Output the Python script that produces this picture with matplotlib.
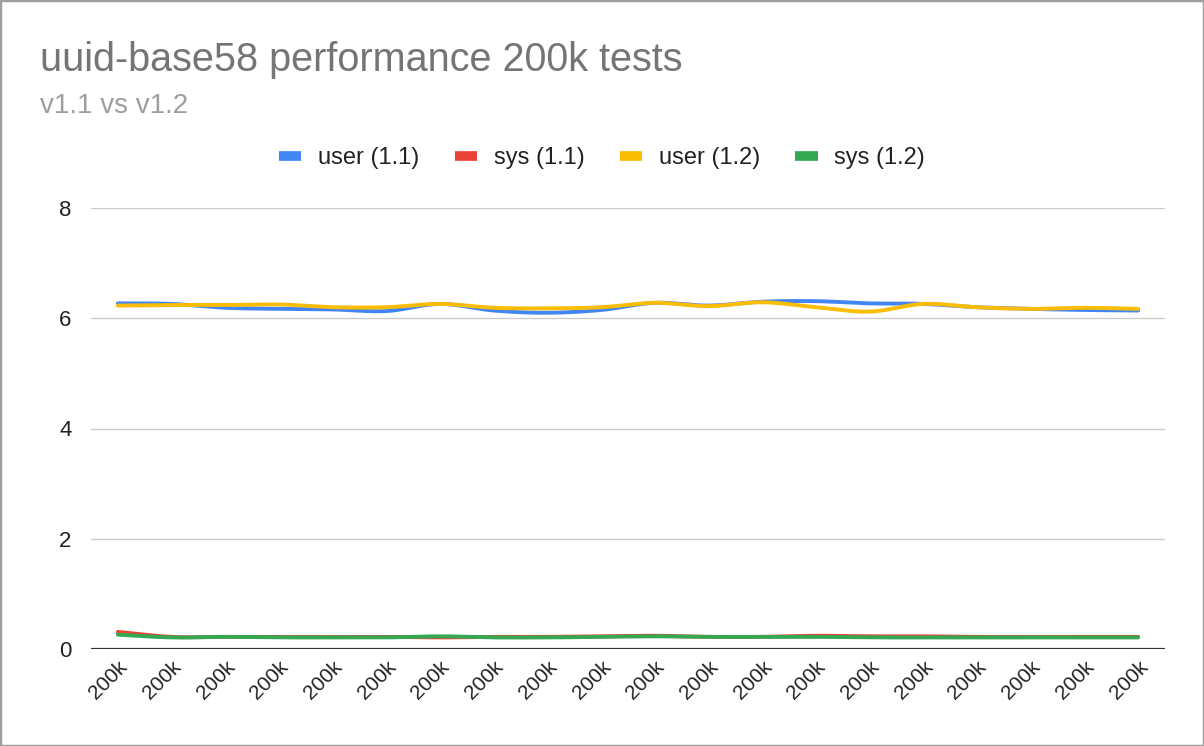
import numpy as np
import matplotlib
matplotlib.use("Agg")
import matplotlib.pyplot as plt
from matplotlib.patches import Rectangle

plt.rcParams['font.family'] = ['Liberation Sans', 'DejaVu Sans']

# data
labels = ["200k"] * 20
user_11 = [6.27, 6.26, 6.19, 6.17, 6.16, 6.13, 6.26, 6.14, 6.10, 6.15,
           6.28, 6.23, 6.30, 6.31, 6.27, 6.26, 6.20, 6.17, 6.15, 6.14]
sys_11 = [0.31, 0.22, 0.22, 0.22, 0.22, 0.22, 0.21, 0.22, 0.22, 0.23,
          0.24, 0.22, 0.22, 0.24, 0.23, 0.23, 0.22, 0.22, 0.22, 0.22]
user_12 = [6.23, 6.24, 6.24, 6.25, 6.20, 6.20, 6.26, 6.19, 6.18, 6.20,
           6.28, 6.22, 6.29, 6.20, 6.12, 6.26, 6.20, 6.17, 6.19, 6.17]
sys_12 = [0.26, 0.21, 0.22, 0.21, 0.21, 0.21, 0.23, 0.21, 0.21, 0.22,
          0.23, 0.22, 0.22, 0.22, 0.21, 0.21, 0.21, 0.21, 0.21, 0.21]

series = [("user (1.1)", user_11, "#4285F4"),
          ("sys (1.1)", sys_11, "#EA4335"),
          ("user (1.2)", user_12, "#FBBC04"),
          ("sys (1.2)", sys_12, "#34A853")]


def smooth(y, n=20):
    # Catmull-Rom curve through the points, like the sheets "smooth" option
    y = np.asarray(y, dtype=float)
    p = np.concatenate([[2 * y[0] - y[1]], y, [2 * y[-1] - y[-2]]])
    xs, ys = [], []
    t = np.linspace(0, 1, n, endpoint=False)
    for i in range(len(y) - 1):
        p0, p1, p2, p3 = p[i], p[i + 1], p[i + 2], p[i + 3]
        seg = 0.5 * (2 * p1 + (-p0 + p2) * t + (2 * p0 - 5 * p1 + 4 * p2 - p3) * t ** 2
                     + (-p0 + 3 * p1 - 3 * p2 + p3) * t ** 3)
        xs.append(i + t)
        ys.append(seg)
    xs.append([len(y) - 1])
    ys.append([y[-1]])
    return np.concatenate(xs), np.concatenate(ys)


fig = plt.figure(figsize=(12.04, 7.46), dpi=100)
ax = fig.add_axes([91 / 1204, 1 - 649 / 746, (1165 - 91) / 1204, (649 - 208) / 746])

for name, vals, col in series:
    sx, sy = smooth(vals)
    ax.plot(sx, sy, color=col, lw=2.8, label=name, solid_capstyle="round")

x = np.arange(len(labels))
ax.set_xlim(-0.5, len(labels) - 0.5)
ax.set_ylim(0, 8)
ax.set_yticks([0, 2, 4, 6, 8])
ax.set_xticks(x)
ax.set_xticklabels(labels, rotation=45, ha="right", rotation_mode="anchor",
                   fontsize=15, color="#222222")
ax.tick_params(axis="y", labelsize=16, labelcolor="#222222", length=0, pad=14)
ax.tick_params(axis="x", length=0, pad=6)
ax.grid(axis="y", color="#cccccc", lw=1)
ax.set_axisbelow(True)
for s in ax.spines.values():
    s.set_visible(False)
ax.axhline(0, color="#333333", lw=1.6, zorder=1)

fig.text(40 / 1204, 1 - 60 / 746, "uuid-base58 performance 200k tests",
         fontsize=28.5, color="#757575", va="center", ha="left")
fig.text(40 / 1204, 1 - 106 / 746, "v1.1 vs v1.2",
         fontsize=20, color="#9e9e9e", va="center", ha="left")

leg = fig.legend(loc="center", bbox_to_anchor=(0.5, 1 - 158 / 746), ncol=4,
                 frameon=False, fontsize=17, handlelength=0.95, handletextpad=0.7,
                 columnspacing=1.5)
for h in leg.get_lines():
    h.set_linewidth(7)
    h.set_solid_capstyle("butt")
for t in leg.get_texts():
    t.set_color("#222222")

fig.patches.append(Rectangle((0, 0), 1, 1, transform=fig.transFigure, fill=False,
                             edgecolor="#9e9e9e", lw=2.5))

fig.savefig("out.png", dpi=100)
